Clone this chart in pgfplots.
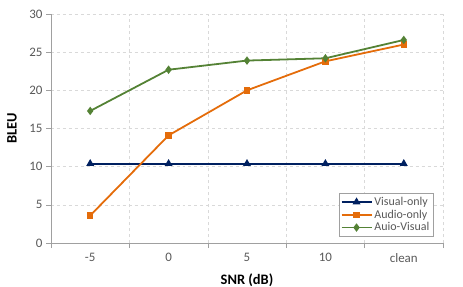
\documentclass[border=0pt]{standalone}
\usepackage{pgfplots}
\pgfplotsset{compat=1.18}
\usepackage{fontspec}
\setmainfont{Carlito}
\definecolor{vnavy}{RGB}{0,32,96}
\definecolor{aorange}{RGB}{228,108,10}
\definecolor{avgreen}{RGB}{84,130,53}
\definecolor{tickgray}{RGB}{89,89,89}
\definecolor{gridgray}{RGB}{217,217,217}
\definecolor{axgray}{RGB}{160,160,160}
\begin{document}
\begin{tikzpicture}
\useasboundingbox (-51bp,-44bp) rectangle (412bp,243bp);
\begin{axis}[
  at={(0,0)}, anchor=south west,
  scale only axis, width=392bp, height=229bp,
  xmin=-0.5, xmax=4.5, ymin=0, ymax=30,
  axis lines=left, axis line style={-, axgray, line width=0.8pt},
  xtick={0,1,2,3,4}, xticklabels={-5,0,5,10,clean},
  major x tick style={draw=none},
  minor xtick={-0.5,0.5,1.5,2.5,3.5,4.5},
  minor x tick style={axgray, line width=0.6pt},
  minor tick length=5bp,
  xminorgrids=true,
  ytick={0,5,...,30},
  ymajorgrids=true,
  major tick length=5bp,
  y tick style={axgray, line width=0.6pt},
  tick align=outside,
  grid style={gridgray, dashed, line width=0.6pt},
  minor grid style={gridgray, dashed, line width=0.6pt},
  tick label style={font=\fontsize{13}{15}\selectfont, text=tickgray},
  xticklabel style={yshift=-2bp},
  /pgf/number format/assume math mode=true,
  xlabel={\textbf{SNR (dB)}},
  label style={font=\fontsize{14.5}{16}\selectfont},
  xlabel style={at={(axis description cs:0.5,-0.1616)}, anchor=center},
  legend style={at={(rel axis cs:0.9745,0.03)}, anchor=south east,
    draw=axgray, font=\fontsize{12}{14}\selectfont, row sep=-1pt,
    inner sep=1.5pt, text=tickgray},
  legend cell align=left,
  legend image code/.code={\draw[mark repeat=2,mark phase=2] plot coordinates {(0cm,0cm) (0.53cm,0cm) (1.06cm,0cm)};},
]
\addplot[vnavy, line width=1.8pt, mark=triangle*, mark size=2.8pt, mark options={solid}]
  coordinates {(0,10.4) (1,10.4) (2,10.4) (3,10.4) (4,10.4)};
\addlegendentry{Visual-only}
\addplot[aorange, line width=1.8pt, mark=square*, mark size=2.3pt]
  coordinates {(0,3.6) (1,14.1) (2,20.0) (3,23.8) (4,26.0)};
\addlegendentry{Audio-only}
\addplot[avgreen, line width=1.8pt, mark=diamond*, mark size=2.8pt]
  coordinates {(0,17.3) (1,22.7) (2,23.9) (3,24.2) (4,26.6)};
\addlegendentry{Auio-Visual}
\end{axis}
\node[rotate=90, anchor=center, font=\fontsize{14.5}{16}\selectfont] at (-39bp,114.5bp) {\textbf{BLEU}};
\end{tikzpicture}
\end{document}
